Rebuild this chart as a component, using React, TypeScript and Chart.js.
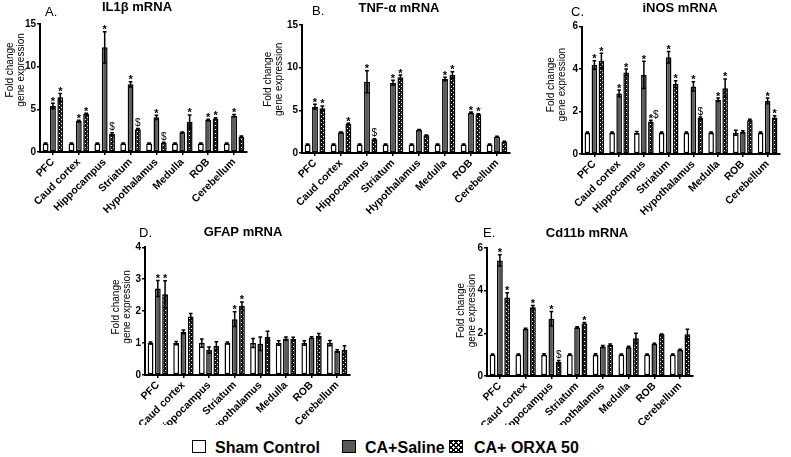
import React, { useEffect, useRef } from "react";
import { Chart, registerables } from "chart.js";

Chart.register(...registerables);

const FONT = "'Liberation Sans', Arial, sans-serif";

// ---------- data ----------
const regions = ["PFC", "Caud cortex", "Hippocampus", "Striatum", "Hypothalamus", "Medulla", "ROB", "Cerebellum"];
const groupNames = ["Sham Control", "CA+Saline", "CA+ ORXA 50"];
const axisTitle = ["Fold change", "gene expression"];

// A. IL1β
const il1bSham = [1, 1, 1, 1, 1, 1, 1, 1];
const il1bShamErr = [0.05, 0.05, 0.05, 0.05, 0.05, 0.05, 0.05, 0.05];
const il1bSaline = [5.39, 3.63, 12.27, 7.93, 4.06, 2.3, 3.75, 4.26];
const il1bSalineErr = [0.31, 0.1, 1.83, 0.3, 0.25, 0.05, 0.1, 0.12];
const il1bOrxa = [6.41, 4.45, 2.11, 2.66, 1.09, 3.55, 3.9, 1.8];
const il1bOrxaErr = [0.45, 0.1, 0.15, 0.1, 0.05, 0.79, 0.1, 0.08];
const il1bSalineMarks = ["*", "*", "*", "*", "*", "", "*", "*"];
const il1bOrxaMarks = ["*", "*", "$", "$", "$", "*", "*", ""];

// B. TNF-α
const tnfSham = [1, 1, 1, 1, 1, 1, 1, 1];
const tnfShamErr = [0.05, 0.05, 0.05, 0.05, 0.05, 0.05, 0.05, 0.05];
const tnfSaline = [5.43, 2.42, 8.36, 8.24, 2.7, 8.67, 4.72, 1.91];
const tnfSalineErr = [0.27, 0.05, 1.29, 0.3, 0.06, 0.2, 0.08, 0.06];
const tnfOrxa = [5.24, 3.4, 1.6, 8.87, 2.07, 9.14, 4.53, 1.33];
const tnfOrxaErr = [0.27, 0.08, 0.08, 0.27, 0.05, 0.39, 0.08, 0.05];
const tnfSalineMarks = ["*", "", "*", "*", "", "*", "*", ""];
const tnfOrxaMarks = ["*", "*", "$", "*", "", "*", "*", ""];

// C. iNOS
const inosSham = [1, 1, 1, 1, 1, 1, 1, 1];
const inosShamErr = [0.03, 0.03, 0.06, 0.03, 0.03, 0.04, 0.12, 0.03];
const inosSaline = [4.19, 2.85, 3.72, 4.55, 3.18, 2.55, 1.04, 2.5];
const inosSalineErr = [0.2, 0.16, 0.64, 0.27, 0.22, 0.08, 0.05, 0.13];
const inosOrxa = [4.39, 3.84, 1.53, 3.29, 1.69, 3.1, 1.59, 1.72];
const inosOrxaErr = [0.35, 0.16, 0.06, 0.16, 0.05, 0.43, 0.04, 0.08];
const inosSalineMarks = ["*", "*", "*", "*", "*", "*", "", "*"];
const inosOrxaMarks = ["*", "*", "*$", "*", "$", "*", "", "*"];

// D. GFAP
const gfapSham = [1, 1, 1, 1, 1, 1, 1, 1];
const gfapShamErr = [0.03, 0.05, 0.13, 0.03, 0.14, 0.07, 0.07, 0.08];
const gfapSaline = [2.71, 1.35, 0.78, 1.75, 0.98, 1.14, 1.17, 0.75];
const gfapSalineErr = [0.25, 0.06, 0.1, 0.23, 0.21, 0.05, 0.03, 0.04];
const gfapOrxa = [2.53, 1.83, 0.91, 2.17, 1.19, 1.13, 1.23, 0.79];
const gfapOrxaErr = [0.42, 0.1, 0.13, 0.12, 0.18, 0.05, 0.07, 0.13];
const gfapSalineMarks = ["*", "", "", "*", "", "", "", ""];
const gfapOrxaMarks = ["*", "", "", "*", "", "", "", ""];

// E. Cd11b
const cd11bSham = [1, 1, 1, 1, 1, 1, 1, 1];
const cd11bShamErr = [0.03, 0.03, 0.04, 0.03, 0.04, 0.03, 0.03, 0.03];
const cd11bSaline = [5.41, 2.2, 2.68, 2.27, 1.38, 1.35, 1.5, 1.22];
const cd11bSalineErr = [0.26, 0.04, 0.34, 0.03, 0.05, 0.04, 0.03, 0.03];
const cd11bOrxa = [3.67, 3.22, 0.65, 2.46, 1.45, 1.77, 1.95, 1.95];
const cd11bOrxaErr = [0.23, 0.08, 0.07, 0.04, 0.05, 0.23, 0.02, 0.24];
const cd11bSalineMarks = ["*", "", "*", "", "", "", "", ""];
const cd11bOrxaMarks = ["*", "*", "$", "*", "", "", "", ""];

const noMarks = ["", "", "", "", "", "", "", ""];

// ---------- layout (positions / styles) ----------
type Box = {
  left: number; top: number; width: number; height: number;
  yWidth: number; rightPad: number; xHeight: number; titlePadBottom: number;
  letterLeft: number; letterTop: number; axisTitleLift: number;
};

const panels = [
  {
    letter: "A.", title: "IL1β mRNA", max: 15, step: 5,
    series: [[il1bSham, il1bShamErr, noMarks], [il1bSaline, il1bSalineErr, il1bSalineMarks], [il1bOrxa, il1bOrxaErr, il1bOrxaMarks]],
    box: { left: 2, top: 0, width: 270, height: 214, yWidth: 38, rightPad: 25, xHeight: 62, titlePadBottom: 8.4, letterLeft: 45, letterTop: 5.3, axisTitleLift: 13 } as Box,
  },
  {
    letter: "B.", title: "TNF-α mRNA", max: 15, step: 5,
    series: [[tnfSham, tnfShamErr, noMarks], [tnfSaline, tnfSalineErr, tnfSalineMarks], [tnfOrxa, tnfOrxaErr, tnfOrxaMarks]],
    box: { left: 260, top: 1, width: 278, height: 213, yWidth: 42, rightPad: 28, xHeight: 61, titlePadBottom: 8.4, letterLeft: 312, letterTop: 3.6, axisTitleLift: 7 } as Box,
  },
  {
    letter: "C.", title: "iNOS mRNA", max: 6, step: 2,
    series: [[inosSham, inosShamErr, noMarks], [inosSaline, inosSalineErr, inosSalineMarks], [inosOrxa, inosOrxaErr, inosOrxaMarks]],
    box: { left: 543, top: 0.5, width: 274, height: 213.5, yWidth: 39, rightPad: 37, xHeight: 61, titlePadBottom: 9.9, letterLeft: 571, letterTop: 5.3, axisTitleLift: 4 } as Box,
  },
  {
    letter: "D.", title: "GFAP mRNA", max: 4, step: 1,
    series: [[gfapSham, gfapShamErr, noMarks], [gfapSaline, gfapSalineErr, gfapSalineMarks], [gfapOrxa, gfapOrxaErr, gfapOrxaMarks]],
    box: { left: 108, top: 224.7, width: 270, height: 200.3, yWidth: 37, rightPad: 28, xHeight: 50, titlePadBottom: 6.7, letterLeft: 139, letterTop: 226.3, axisTitleLift: 3 } as Box,
  },
  {
    letter: "E.", title: "Cd11b mRNA", max: 6, step: 2,
    series: [[cd11bSham, cd11bShamErr, noMarks], [cd11bSaline, cd11bSalineErr, cd11bSalineMarks], [cd11bOrxa, cd11bOrxaErr, cd11bOrxaMarks]],
    box: { left: 453, top: 226.2, width: 268, height: 198.8, yWidth: 34, rightPad: 28, xHeight: 49, titlePadBottom: 6.2, letterLeft: 483, letterTop: 226.3, axisTitleLift: 1 } as Box,
  },
];

const SALINE_GRAY = "#5a5a5a";

function makePattern(): CanvasPattern | string {
  const c = document.createElement("canvas");
  c.width = 4;
  c.height = 4;
  const g = c.getContext("2d");
  if (!g) return "#222";
  g.fillStyle = "#111";
  g.fillRect(0, 0, 4, 4);
  g.fillStyle = "#fff";
  g.fillRect(1, 1, 1, 1);
  g.fillRect(3, 3, 1, 1);
  return g.createPattern(c, "repeat") || "#222";
}

const errorBarPlugin = {
  id: "errorBarsMarks",
  afterDatasetsDraw(chart: any) {
    const ctx = chart.ctx;
    const ys = chart.scales.y;
    chart.data.datasets.forEach((ds: any, di: number) => {
      const meta = chart.getDatasetMeta(di);
      meta.data.forEach((bar: any, i: number) => {
        const v = ds.data[i];
        const e = ds.errors ? ds.errors[i] : 0;
        const top = ys.getPixelForValue(v + e);
        const bot = ys.getPixelForValue(Math.max(0, v - e));
        const half = bar.width * 0.32;
        ctx.save();
        if (e > 0) {
          ctx.strokeStyle = "#000";
          ctx.lineWidth = 1.5;
          ctx.beginPath();
          ctx.moveTo(bar.x, top);
          ctx.lineTo(bar.x, bot);
          ctx.moveTo(bar.x - half, top);
          ctx.lineTo(bar.x + half, top);
          ctx.moveTo(bar.x - half, bot);
          ctx.lineTo(bar.x + half, bot);
          ctx.stroke();
        }
        const m: string = ds.marks ? ds.marks[i] : "";
        if (m) {
          ctx.fillStyle = "#000";
          let x = bar.x;
          for (let k = 0; k < m.length; k++) {
            const ch = m[k];
            if (ch === "*") {
              ctx.font = `bold 11px ${FONT}`;
              const w = ctx.measureText("*").width;
              ctx.textAlign = "left";
              ctx.textBaseline = "alphabetic";
              const sx = k === 0 ? x - w / 2 : x;
              ctx.fillText("*", sx, top + 1.5);
              x = sx + w;
            } else {
              ctx.font = `10px ${FONT}`;
              const w = ctx.measureText(ch).width;
              ctx.textAlign = "left";
              ctx.textBaseline = "alphabetic";
              const sx = k === 0 ? x - w / 2 : x;
              ctx.fillText(ch, sx, top - 2.5);
              x = sx + w;
            }
          }
        }
        ctx.restore();
      });
    });
  },
};

function PanelChart({ p }: { p: (typeof panels)[number] }) {
  const ref = useRef<HTMLCanvasElement>(null);
  useEffect(() => {
    if (!ref.current) return;
    const pattern = makePattern();
    const fills = ["#ffffff", SALINE_GRAY, pattern];
    const b = p.box;
    const lift = " ".repeat(b.axisTitleLift);
    const chart = new Chart(ref.current, {
      type: "bar",
      data: {
        labels: regions,
        datasets: p.series.map((s, si) => ({
          label: groupNames[si],
          data: s[0] as number[],
          errors: s[1],
          marks: s[2],
          backgroundColor: fills[si],
          borderColor: "#000",
          borderWidth: 1.5,
          borderSkipped: false,
          categoryPercentage: 0.85,
          barPercentage: 0.8,
        })) as any,
      },
      options: {
        responsive: false,
        animation: false,
        devicePixelRatio: 1,
        layout: { padding: 0 },
        plugins: {
          legend: { display: false },
          tooltip: { enabled: false },
          title: {
            display: true,
            text: p.title,
            color: "#000",
            font: { family: FONT, size: 13, weight: "bold", lineHeight: 1.2 },
            padding: { top: 0, bottom: b.titlePadBottom },
          },
        },
        scales: {
          x: {
            type: "category",
            offset: true,
            grid: { display: true, drawOnChartArea: false, drawTicks: true, tickLength: 3, offset: false, color: "#000", lineWidth: 1.5 },
            border: { display: true, color: "#000", width: 2 },
            ticks: {
              autoSkip: false,
              minRotation: 45,
              maxRotation: 45,
              padding: 1,
              color: "#000",
              font: { family: FONT, size: 10.5, weight: "bold" },
            },
            afterFit: (s: any) => { s.height = b.xHeight; },
          },
          y: {
            type: "linear",
            min: 0,
            max: p.max,
            grid: { display: true, drawOnChartArea: false, drawTicks: true, tickLength: 3, color: "#000", lineWidth: 1.5 },
            border: { display: true, color: "#000", width: 2 },
            ticks: {
              stepSize: p.step,
              padding: 1,
              color: "#000",
              font: { family: FONT, size: 10, weight: "bold" },
            },
            title: {
              display: true,
              text: axisTitle.map((t) => lift + t),
              color: "#000",
              font: { family: FONT, size: 10, lineHeight: 1.15 },
              padding: { top: 2, bottom: 0 },
            },
            afterFit: (s: any) => { s.width = b.yWidth; },
          },
          yR: {
            type: "linear",
            position: "right",
            display: true,
            grid: { display: false },
            border: { display: false },
            ticks: { display: false },
            afterFit: (s: any) => { s.width = b.rightPad; },
          },
        },
      } as any,
      plugins: [errorBarPlugin],
    });
    return () => chart.destroy();
  }, [p]);
  const b = p.box;
  return (
    <canvas
      ref={ref}
      width={b.width}
      height={Math.round(b.height)}
      style={{ position: "absolute", left: b.left, top: b.top, width: b.width, height: Math.round(b.height) }}
    />
  );
}

const legendSwatch: React.CSSProperties = {
  position: "absolute",
  top: 440,
  width: 12,
  height: 11,
  border: "1.5px solid #000",
};

const legendText: React.CSSProperties = {
  position: "absolute",
  top: 439.5,
  font: `bold 16px ${FONT}`,
  lineHeight: "16px",
  color: "#000",
  whiteSpace: "nowrap",
};

export default function App() {
  return (
    <div style={{ position: "absolute", left: 0, top: 0, width: 791, height: 457, overflow: "hidden", background: "#fff" }}>
      {panels.map((p) => (
        <PanelChart key={p.letter} p={p} />
      ))}
      {panels.map((p) => (
        <span
          key={"l" + p.letter}
          style={{ position: "absolute", left: p.box.letterLeft, top: p.box.letterTop, font: `13px ${FONT}`, lineHeight: "13px", color: "#000" }}
        >
          {p.letter}
        </span>
      ))}
      <div style={{ ...legendSwatch, left: 192, background: "#fff" }} />
      <span style={{ ...legendText, left: 215 }}>{groupNames[0]}</span>
      <div style={{ ...legendSwatch, left: 342, background: SALINE_GRAY }} />
      <span style={{ ...legendText, left: 365 }}>{groupNames[1]}</span>
      <div
        style={{
          ...legendSwatch,
          left: 449,
          background:
            "repeating-linear-gradient(45deg, #000 0 1px, #fff 1px 3.5px), repeating-linear-gradient(-45deg, #000 0 1px, transparent 1px 3.5px)",
          backgroundBlendMode: "multiply",
        }}
      />
      <span style={{ ...legendText, left: 474 }}>{groupNames[2]}</span>
    </div>
  );
}
